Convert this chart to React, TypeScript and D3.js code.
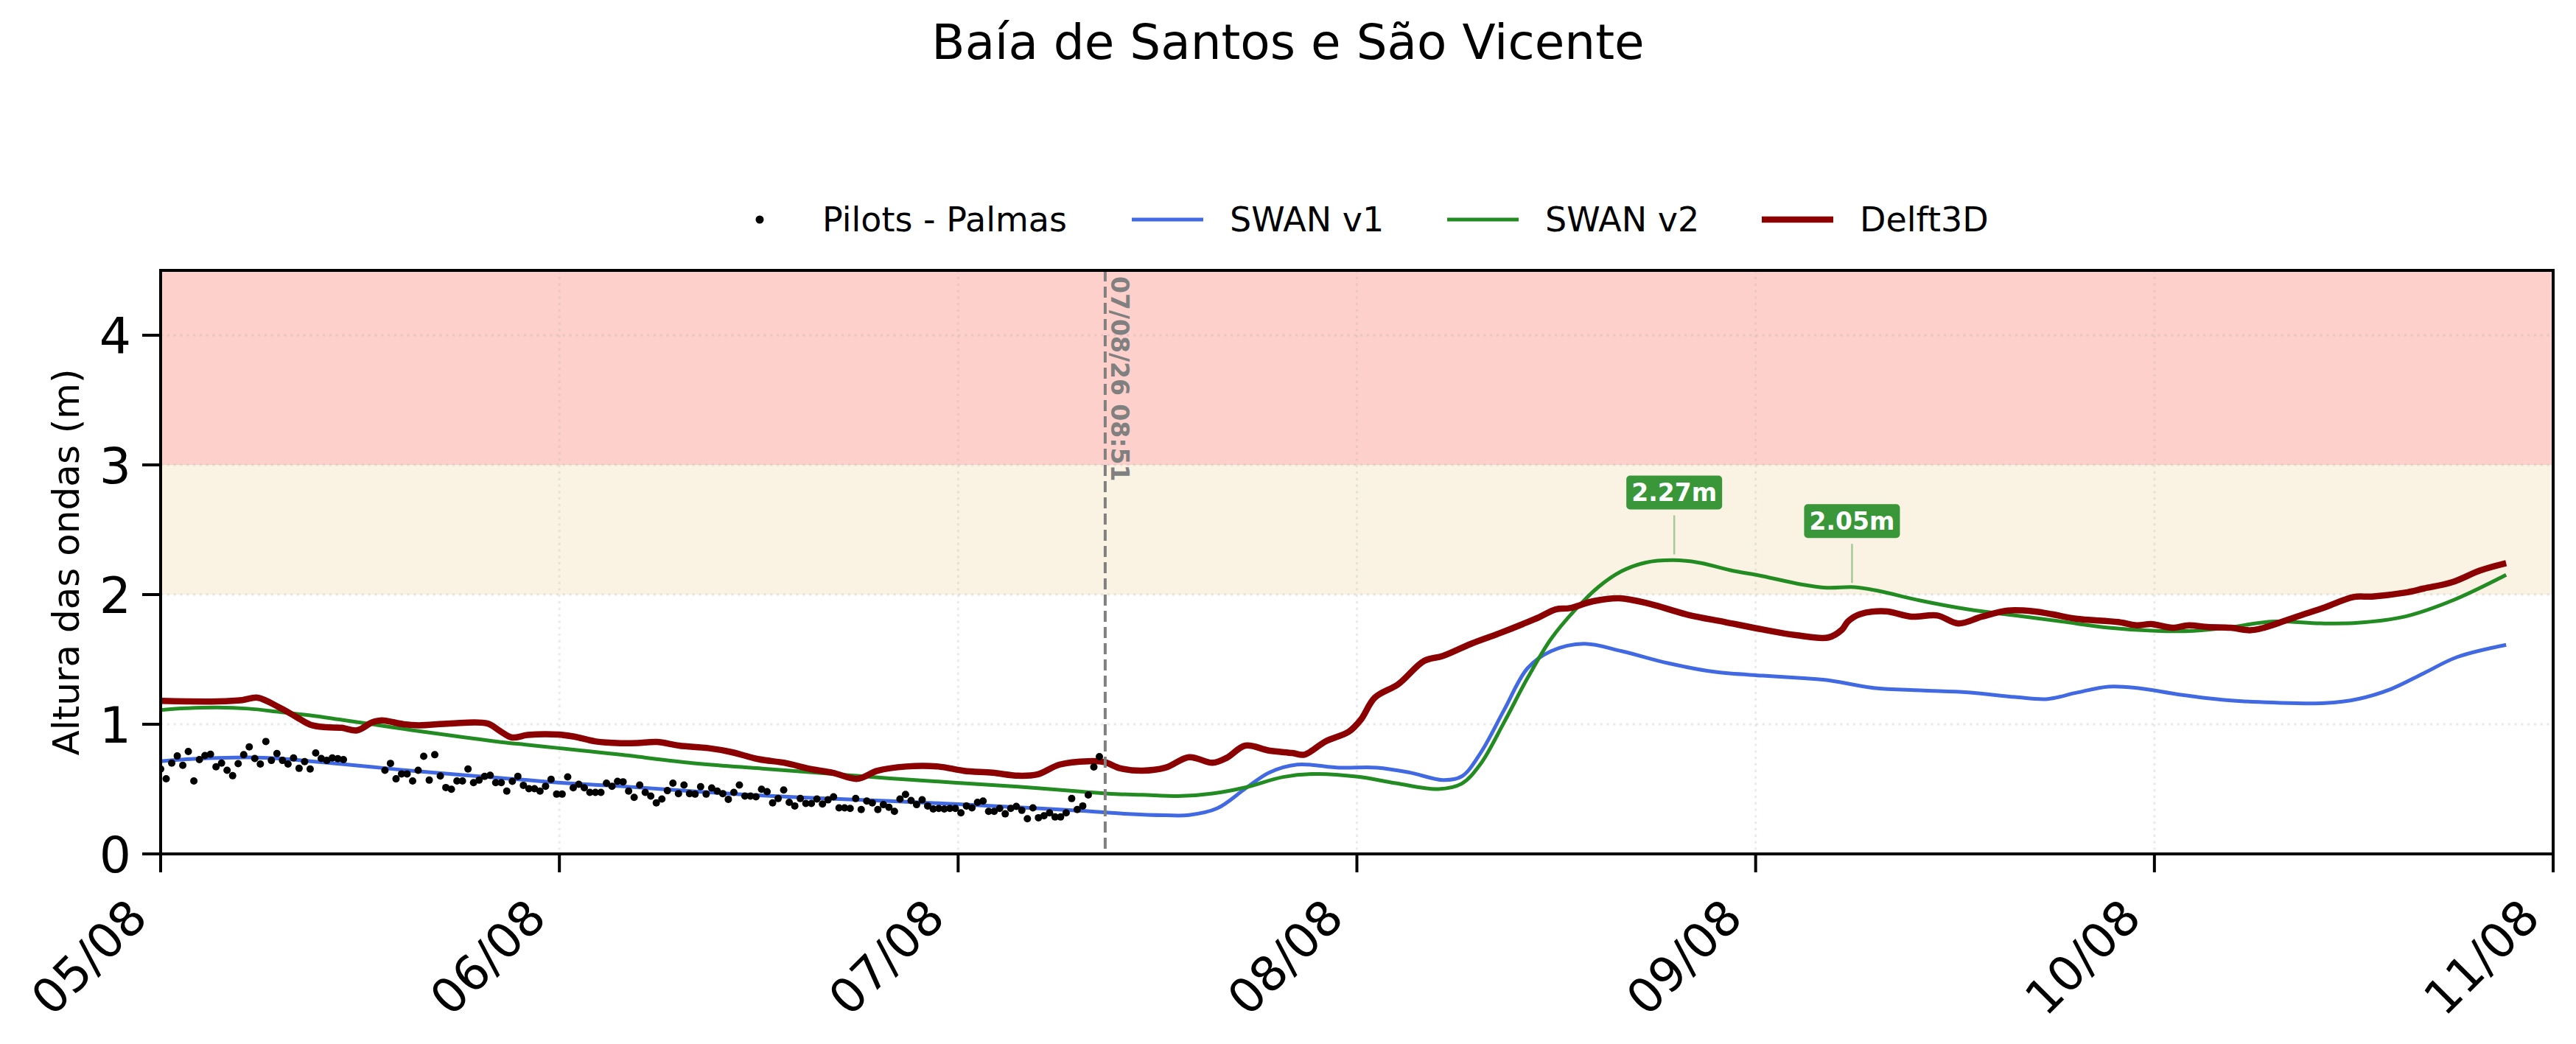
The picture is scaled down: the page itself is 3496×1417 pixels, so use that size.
import React from 'react'
import * as d3 from 'd3'

// ---- data ----
const title = 'Baía de Santos e São Vicente'
const yLabel = 'Altura das ondas (m)'
const seriesNames = ['Pilots - Palmas', 'SWAN v1', 'SWAN v2', 'Delft3D']
const seriesColors = ['#000000', '#4169e1', '#228b22', '#8b0000']
const startDay = new Date(2026, 7, 5)
const endDay = new Date(2026, 7, 11)
const yTicks = [0, 1, 2, 3, 4]
const yMax = 4.5
const warnBand = [2, 3]
const alertBand = [3, 4.5]
const nowHour = 56.85 // hours after 05/08 00:00
const nowLabel = '07/08/26 08:51'

// Pilots - Palmas observations, one every 20 minutes
const obsStepMin = 20
const obsStart1 = 0 // 05/08 00:00
const obs1 = [
  0.655, 0.58, 0.7, 0.755, 0.683, 0.79, 0.563, 0.727, 0.759, 0.768, 0.672, 0.7, 0.645, 0.603, 0.696, 0.765, 0.825,
  0.736, 0.693, 0.867, 0.721, 0.774, 0.721, 0.693, 0.74, 0.66, 0.712, 0.655, 0.778, 0.736, 0.721, 0.74, 0.734, 0.727,
]
const obsStart2 = 13.5 // 05/08 13:30
const obs2 = [
  0.645, 0.698, 0.579, 0.617, 0.617, 0.563, 0.645, 0.753, 0.569, 0.765, 0.601, 0.512, 0.499, 0.563, 0.563, 0.655,
  0.55, 0.569, 0.598, 0.607, 0.55, 0.55, 0.484, 0.56, 0.598, 0.529, 0.503, 0.503, 0.484, 0.522, 0.575, 0.461, 0.461,
  0.594, 0.51, 0.537, 0.51, 0.474, 0.474, 0.474, 0.545, 0.522, 0.56, 0.556, 0.484, 0.436, 0.531,
  0.474, 0.446, 0.393, 0.423, 0.488, 0.545, 0.465, 0.531, 0.465, 0.461, 0.518, 0.461, 0.509, 0.484, 0.465, 0.421,
  0.474, 0.531, 0.446, 0.446, 0.44, 0.499, 0.48, 0.393, 0.427, 0.493, 0.398, 0.37, 0.427, 0.389, 0.389, 0.423,
  0.385, 0.417, 0.44, 0.355, 0.355, 0.351, 0.427, 0.342, 0.408, 0.393, 0.342, 0.38, 0.36, 0.328, 0.423, 0.459,
  0.412, 0.38, 0.417, 0.37, 0.347, 0.351, 0.347, 0.351, 0.351, 0.317, 0.37, 0.355, 0.398, 0.408, 0.328, 0.328,
  0.351, 0.309, 0.351, 0.366, 0.336, 0.271, 0.355, 0.279, 0.294, 0.317, 0.285, 0.285, 0.317, 0.427, 0.342, 0.37,
  0.455, 0.67, 0.75,
]

// model series: [hours after 05/08 00:00, Hs]
const swanV1: [number, number][] = [
  [0, 0.715], [1.55, 0.73], [3.42, 0.74], [5.28, 0.744], [7.15, 0.736], [9.02, 0.715], [10.89, 0.693], [12.75, 0.67],
  [14.62, 0.647], [16.49, 0.626], [18.35, 0.607], [20.22, 0.588], [22.09, 0.569], [23.95, 0.55], [25.82, 0.535],
  [27.69, 0.522], [32.37, 0.48], [36.22, 0.45], [40.06, 0.427], [43.91, 0.408], [47.76, 0.385], [51.61, 0.36],
  [55.46, 0.332], [58, 0.31], [60.5, 0.298], [61.9, 0.3], [63.6, 0.352], [65.29, 0.504], [66.71, 0.627],
  [68.41, 0.689], [70.95, 0.665], [73.22, 0.665], [75.2, 0.627], [77.18, 0.57], [78.31, 0.598], [79.44, 0.778],
  [80.86, 1.11], [82.27, 1.432], [83.69, 1.564], [85.67, 1.621], [87.93, 1.564], [90.76, 1.47], [93.59, 1.403],
  [96.42, 1.375], [98.69, 1.356], [100.27, 1.341], [103.1, 1.28], [105.94, 1.261], [108.77, 1.246], [111.6, 1.21],
  [113.58, 1.195], [115.27, 1.242], [117.25, 1.29], [118.95, 1.28], [121.5, 1.229], [124.33, 1.186],
  [127.16, 1.167], [130.27, 1.163], [132.25, 1.195], [134.23, 1.271], [136.22, 1.394], [138.2, 1.517],
  [141.17, 1.612],
]
const swanV2: [number, number][] = [
  [0, 1.11], [1.55, 1.123], [3.42, 1.129], [5.28, 1.12], [7.15, 1.095], [9.02, 1.068], [10.89, 1.034], [12.75, 1.0],
  [14.62, 0.964], [16.49, 0.93], [18.35, 0.898], [20.22, 0.867], [22.09, 0.841], [23.95, 0.816], [25.82, 0.791],
  [27.69, 0.765], [32.37, 0.696], [36.22, 0.658], [40.06, 0.62], [43.91, 0.583], [47.76, 0.55], [51.61, 0.518],
  [55.46, 0.48], [57.5, 0.462], [59.07, 0.456], [61.47, 0.447], [63.31, 0.466], [65.29, 0.513], [67.56, 0.593],
  [69.54, 0.617], [72.08, 0.595], [74.35, 0.545], [76.9, 0.5], [78.31, 0.542], [79.44, 0.693], [80.86, 1.015],
  [82.27, 1.356], [83.69, 1.659], [85.1, 1.877], [86.52, 2.057], [87.93, 2.18], [89.35, 2.246], [91.05, 2.265],
  [92.6, 2.246], [94.44, 2.189], [96.42, 2.142], [98.69, 2.08], [100.27, 2.053], [101.97, 2.057], [103.39, 2.028],
  [105.94, 1.953], [108.77, 1.886], [111.6, 1.839], [114.43, 1.792], [117.25, 1.744], [120.08, 1.72],
  [122.35, 1.72], [124.33, 1.744], [127.16, 1.792], [129.99, 1.778], [132.25, 1.782], [135.08, 1.83],
  [137.91, 1.953], [141.17, 2.152],
]
const delft3d: [number, number][] = [
  [0, 1.18], [1.55, 1.176], [3.42, 1.176], [4.91, 1.186], [5.84, 1.205], [7.15, 1.129], [8.08, 1.063], [9.02, 0.996],
  [9.95, 0.977], [10.89, 0.973], [11.82, 0.953], [12.75, 1.015], [13.31, 1.03], [14.62, 1.0], [15.55, 0.992],
  [17.42, 1.006], [19.66, 1.006], [20.41, 0.949], [21.15, 0.898], [22.09, 0.917], [23.95, 0.92], [24.89, 0.905],
  [26.19, 0.867], [27.69, 0.854], [28.7, 0.855], [29.87, 0.863], [31.21, 0.835], [32.95, 0.816], [34.29, 0.787],
  [36.02, 0.73], [37.56, 0.702], [39.1, 0.655], [40.45, 0.626], [41.93, 0.579], [43.14, 0.641], [44.87, 0.674],
  [46.8, 0.674], [48.34, 0.641], [50.07, 0.626], [51.61, 0.603], [52.76, 0.613], [54.11, 0.689], [55.84, 0.715],
  [56.8, 0.708], [57.77, 0.66], [59.07, 0.642], [60.48, 0.665], [61.9, 0.746], [63.31, 0.703], [64.16, 0.741],
  [65.29, 0.835], [66.71, 0.797], [68.12, 0.778], [68.83, 0.765], [70.1, 0.867], [71.52, 0.943], [72.23, 1.034],
  [73.08, 1.205], [74.49, 1.309], [76.05, 1.489], [77.18, 1.527], [78.88, 1.621], [80.57, 1.701], [81.99, 1.773],
  [82.98, 1.826], [83.97, 1.886], [84.82, 1.896], [86.23, 1.949], [87.79, 1.972], [89.63, 1.928], [91.9, 1.845],
  [94.16, 1.788], [96.42, 1.731], [98.4, 1.688], [100.38, 1.669], [101.2, 1.73], [101.55, 1.792], [102.26, 1.848],
  [103.81, 1.871], [105.37, 1.83], [106.93, 1.839], [108.2, 1.777], [109.62, 1.83], [111.17, 1.877],
  [112.73, 1.871], [113.86, 1.848], [115.27, 1.814], [117.82, 1.788], [118.95, 1.763], [119.8, 1.773],
  [121.08, 1.744], [122.07, 1.763], [123.2, 1.75], [124.61, 1.744], [125.74, 1.725], [126.59, 1.744],
  [128.57, 1.83], [130.27, 1.902], [131.97, 1.981], [133.1, 1.985], [135.08, 2.015], [136.22, 2.047],
  [137.91, 2.095], [139.61, 2.186], [141.17, 2.242],
]
// SWAN v2 peak labels
const peaks = [
  {hour: 91.1, value: 2.27},
  {hour: 101.8, value: 2.05},
]

// ---- layout ----
const W = 3496
const H = 1417
const left = 218
const right = 3465
const top = 367
const bottom = 1159
const font = 'DejaVu Sans, Liberation Sans, sans-serif'

const hourToDate = (h: number) => new Date(startDay.getTime() + h * 3600e3)

function App() {
  const x = d3.scaleTime().domain([startDay, endDay]).range([left, right])
  const y = d3.scaleLinear().domain([0, yMax]).range([bottom, top])
  const xTicks = d3.timeDay.range(startDay, d3.timeDay.offset(endDay, 1))
  const fmt = d3.timeFormat('%d/%m')

  const line = d3
    .line<[number, number]>()
    .x((d) => x(hourToDate(d[0])))
    .y((d) => y(d[1]))
    .curve(d3.curveCatmullRom.alpha(0.5))

  const obs = [
    ...obs1.map((v, i) => ({h: obsStart1 + (i * obsStepMin) / 60, v})),
    ...obs2.map((v, i) => ({h: obsStart2 + (i * obsStepMin) / 60, v})),
  ]

  const models = [
    {data: swanV1, color: seriesColors[1], width: 5},
    {data: swanV2, color: seriesColors[2], width: 5},
    {data: delft3d, color: seriesColors[3], width: 8.5},
  ]

  const legendX = [983, 1536, 1964, 2391]
  const legendY = 298
  const nowX = x(hourToDate(nowHour))

  return (
    <svg
      width={W}
      height={H}
      style={{position: 'absolute', left: 0, top: 0, background: '#fff'}}
      fontFamily={font}
    >
      <defs>
        <clipPath id="plot">
          <rect x={left} y={top} width={right - left} height={bottom - top} />
        </clipPath>
      </defs>

      <text x={W / 2} y={80} fontSize={66} textAnchor="middle">
        {title}
      </text>

      {/* legend */}
      {seriesNames.map((name, i) => (
        <g key={name}>
          {i === 0 ? (
            <circle cx={legendX[i] + 48} cy={legendY} r={5.5} fill={seriesColors[0]} />
          ) : (
            <line
              x1={legendX[i]}
              x2={legendX[i] + 97}
              y1={legendY}
              y2={legendY}
              stroke={seriesColors[i]}
              strokeWidth={models[i - 1].width}
            />
          )}
          <text x={legendX[i] + 133} y={legendY + 16} fontSize={46}>
            {name}
          </text>
        </g>
      ))}

      {/* bands */}
      <rect x={left} width={right - left} y={y(alertBand[1])} height={y(alertBand[0]) - y(alertBand[1])} fill="#fdd0cb" />
      <rect x={left} width={right - left} y={y(warnBand[1])} height={y(warnBand[0]) - y(warnBand[1])} fill="#faf3e3" />

      {/* grid */}
      {yTicks.map((t) => (
        <line key={'gy' + t} x1={left} x2={right} y1={y(t)} y2={y(t)} stroke="#b0b0b0" strokeOpacity={0.28}
          strokeWidth={3} strokeDasharray="3.3,5.5" />
      ))}
      {xTicks.map((t) => (
        <line key={'gx' + t.getTime()} x1={x(t)} x2={x(t)} y1={top} y2={bottom} stroke="#b0b0b0"
          strokeOpacity={0.25} strokeWidth={3} strokeDasharray="3.3,5.5" />
      ))}

      <g clipPath="url(#plot)">
        {models.map((m, i) => (
          <path key={i} d={line(m.data) || ''} fill="none" stroke={m.color} strokeWidth={m.width}
            strokeLinejoin="round" strokeLinecap="butt" />
        ))}
        {obs.map((o, i) => (
          <circle key={i} cx={x(hourToDate(o.h))} cy={y(o.v)} r={5} fill="#000" />
        ))}
      </g>

      {/* now marker */}
      <line x1={nowX} x2={nowX} y1={top} y2={bottom} stroke="#808080" strokeWidth={4} strokeDasharray="15,7" />
      <text transform={`translate(${nowX + 8},${top + 8}) rotate(90)`} fontSize={33} fontWeight="bold" fill="#808080">
        {nowLabel}
      </text>

      {/* peak labels */}
      {peaks.map((p) => {
        const px = x(hourToDate(p.hour))
        const py = y(p.value)
        const cy = py - 91
        return (
          <g key={p.hour}>
            <line x1={px} x2={px} y1={cy + 31} y2={py - 7} stroke="#228b22" strokeOpacity={0.4} strokeWidth={2.5} />
            <rect x={px - 65} y={cy - 23} width={130} height={46} rx={5} fill="#399639" />
            <text x={px} y={cy + 12} fontSize={33} fontWeight="bold" fill="#fff" textAnchor="middle">
              {p.value.toFixed(2)}m
            </text>
          </g>
        )
      })}

      {/* frame */}
      <rect x={left} y={top} width={right - left} height={bottom - top} fill="none" stroke="#000" strokeWidth={4} />

      {/* y axis */}
      {yTicks.map((t) => (
        <g key={'y' + t}>
          <line x1={left - 25} x2={left} y1={y(t)} y2={y(t)} stroke="#000" strokeWidth={4} />
          <text x={left - 40} y={y(t) + 25} fontSize={68} textAnchor="end">
            {t}
          </text>
        </g>
      ))}
      <text transform={`translate(107,${(top + bottom) / 2}) rotate(-90)`} fontSize={50} textAnchor="middle">
        {yLabel}
      </text>

      {/* x axis */}
      {xTicks.map((t) => (
        <g key={'x' + t.getTime()}>
          <line x1={x(t)} x2={x(t)} y1={bottom} y2={bottom + 25} stroke="#000" strokeWidth={4} />
          <text transform={`translate(${x(t) - 15},${bottom + 90}) rotate(-45)`} fontSize={65} textAnchor="end">
            {fmt(t)}
          </text>
        </g>
      ))}
    </svg>
  )
}

export default App
